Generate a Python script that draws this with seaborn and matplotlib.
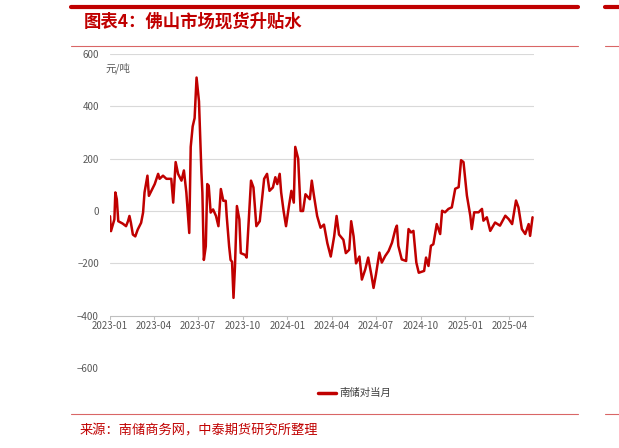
import matplotlib
matplotlib.use("Agg")
import matplotlib.pyplot as plt
import seaborn as sns
import pandas as pd

sns.set_style("white")
plt.rcParams['font.family'] = ['Noto Sans CJK SC', 'DejaVu Sans']

day_offsets = [0,2,5,9,11,14,17,26,33,37,40,43,47,52,57,64,68,71,74,77,80,85,92,99,102,109,116,126,130,135,140,147,152,157,163,166,170,174,178,183,188,190,193,197,200,203,207,212,218,223,228,233,238,240,245,248,251,254,257,261,266,269,278,281,287,290,295,301,308,317,323,328,335,340,344,349,352,357,362,368,373,378,381,387,392,397,402,411,415,419,426,433,440,447,454,461,466,471,480,485,492,496,501,506,513,518,525,531,538,542,547,554,559,566,573,580,587,590,593,600,609,614,619,624,630,635,646,650,655,660,665,672,679,683,689,696,703,710,717,722,727,734,741,744,749,758,765,768,775,782,792,802,813,820,827,835,840,847,854,861,864,869]
values = [-20,-77,-58,-32,71,45,-39,-48,-58,-39,-19,-45,-90,-97,-71,-45,-6,71,103,135,58,77,103,142,123,135,123,123,32,187,142,116,155,71,-84,245,323,355,510,419,148,71,-187,-135,103,97,-6,6,-19,-58,84,39,39,-19,-135,-187,-194,-332,-213,19,-32,-161,-168,-178,19,116,90,-58,-39,123,142,77,90,129,103,142,71,0,-58,19,77,32,245,200,0,0,64,45,116,64,-19,-64,-52,-123,-174,-97,-19,-90,-110,-161,-148,-39,-97,-200,-174,-262,-223,-178,-249,-294,-242,-159,-197,-172,-153,-121,-69,-56,-133,-185,-191,-69,-82,-76,-197,-236,-229,-178,-210,-133,-127,-50,-88,1,-5,8,14,85,91,194,187,59,-18,-69,-5,-5,8,-37,-24,-76,-44,-56,-18,-31,-50,40,14,-69,-88,-50,-95,-24]
series_name = "南储对当月"
y_ticks = [600, 400, 200, 0, -200, -400, -600]
x_tick_labels = ["2023-01","2023-04","2023-07","2023-10","2024-01","2024-04","2024-07","2024-10","2025-01","2025-04"]

dates = pd.Timestamp("2023-01-01") + pd.to_timedelta(day_offsets, unit="D")
df = pd.DataFrame({"date": dates, "value": values, "series": series_name})

fig = plt.figure(figsize=(6.19, 4.48), dpi=100)
W, H = 619, 448
ax = fig.add_axes([110/W, 1-368/H, (534-110)/W, (368-54)/H])
sns.lineplot(data=df, x="date", y="value", hue="series", palette=["#C00000"], lw=1.8, ax=ax, legend=False)
ax.set_ylim(-600, 600)
ax.set_xlim(pd.Timestamp("2023-01-01"), pd.Timestamp("2025-05-22"))
ax.set_yticks(y_ticks)
for v in y_ticks[:-2]:
    ax.axhline(v, color="#d9d9d9", lw=0.8, zorder=0)
ax.axhline(-400, color="#bfbfbf", lw=0.8, zorder=0)
for s in ax.spines.values():
    s.set_visible(False)
xt = [pd.Timestamp(l + "-01") for l in x_tick_labels]
ax.set_xticks(xt)
ax.set_xticklabels([])
for t, l in zip(xt, x_tick_labels):
    ax.text(t, -420, l, ha="center", va="top", fontsize=7, color="#595959")
    ax.plot([t, t], [-400, -412], color="#bfbfbf", lw=0.8)
ax.tick_params(axis="y", length=0, labelsize=7, labelcolor="#595959", pad=8)
ax.tick_params(axis="x", length=0)
ax.set_xlabel(""); ax.set_ylabel("")
ax.text(-0.01, 545, "元/吨", transform=ax.get_yaxis_transform(), fontsize=7.5, color="#595959", ha="left", va="center")

fig.add_artist(plt.Line2D([318/W, 336/W], [1-393/H, 1-393/H], color="#C00000", lw=2.5))
fig.text(339/W, 1-393/H, series_name, fontsize=7.5, color="#404040", va="center")

fig.add_artist(plt.Line2D([71/W, 578/W], [1-7/H, 1-7/H], color="#C00000", lw=3))
fig.add_artist(plt.Line2D([605/W, 619/W], [1-7/H, 1-7/H], color="#C00000", lw=3))
fig.add_artist(plt.Line2D([71/W, 578/W], [1-46/H, 1-46/H], color="#C00000", lw=0.8, alpha=0.6))
fig.add_artist(plt.Line2D([605/W, 619/W], [1-46/H, 1-46/H], color="#C00000", lw=0.8, alpha=0.6))
fig.text(84/W, 1-22/H, "图表4：佛山市场现货升贴水", fontsize=12.5, fontweight="bold", style="italic", color="#C00000", va="center")
fig.add_artist(plt.Line2D([71/W, 578/W], [1-414/H, 1-414/H], color="#C00000", lw=0.8, alpha=0.6))
fig.add_artist(plt.Line2D([605/W, 619/W], [1-414/H, 1-414/H], color="#C00000", lw=0.8, alpha=0.6))
fig.text(80/W, 1-431/H, "来源：南储商务网，中泰期货研究所整理", fontsize=9.5, color="#C00000", va="center")

fig.savefig("out.png", dpi=100)
